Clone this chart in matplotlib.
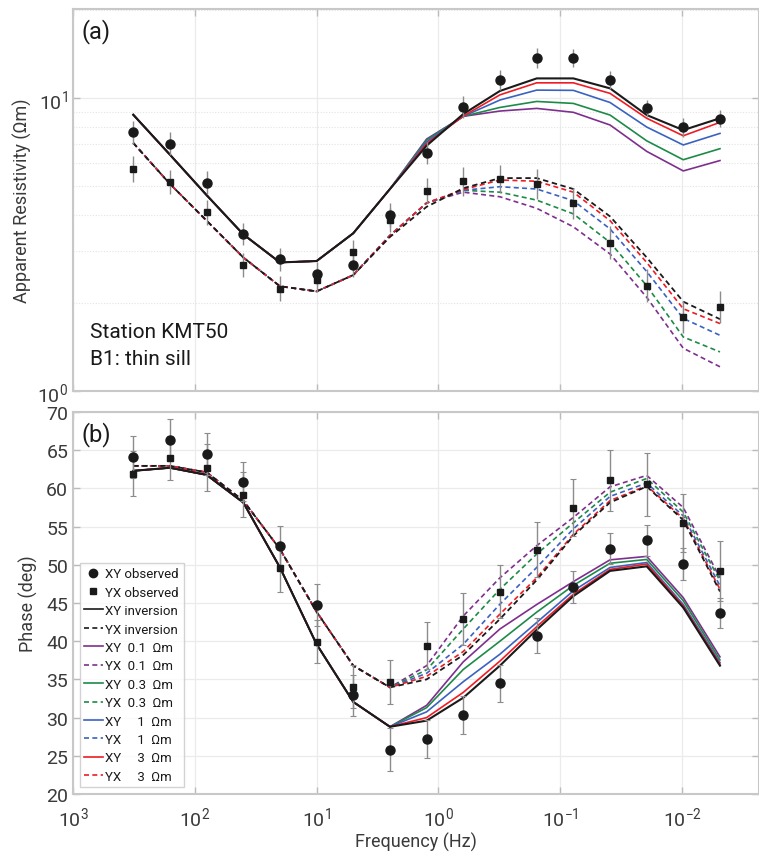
import numpy as np
import matplotlib

matplotlib.use("Agg")
import matplotlib.pyplot as plt
from matplotlib.lines import Line2D
from matplotlib.ticker import FixedLocator, FixedFormatter, NullLocator

# ---- data --------------------------------------------------------------
freq = [320, 160, 80, 40, 20, 10, 5, 2.5, 1.25, 0.625, 0.3125, 0.156, 0.078,
        0.039, 0.0195, 0.00977, 0.00488]

# apparent resistivity (ohm m)
xy_rho_obs = [7.67, 7.0, 5.15, 3.43, 2.82, 2.52, 2.69, 4.0, 6.49, 9.34, 11.55,
              13.73, 13.73, 11.55, 9.24, 7.96, 8.52]
yx_rho_obs = [5.73, 5.19, 4.08, 2.69, 2.24, 2.40, 2.99, 3.83, 4.84, 5.21, 5.30,
              5.11, 4.38, 3.21, 2.29, 1.79, 1.94]
xy_rho_err_pct = [9.5, 9.5, 9.5, 9, 9.5, 9.5, 9.5, 10, 9, 9, 8.5, 8, 7.5, 7, 7, 7.5, 7]
yx_rho_err_pct = [10.5, 10, 10.5, 10, 10.5, 10, 10, 10, 10.5, 12, 12, 12.5, 13,
                  14, 14, 13, 13.5]

# phase (deg)
xy_phs_obs = [64.1, 66.35, 64.5, 60.9, 52.4, 44.75, 32.9, 25.8, 27.25, 30.3, 34.5,
              40.7, 47.1, 52.1, 53.2, 50.1, 43.7]
yx_phs_obs = [61.95, 64.0, 62.7, 59.2, 49.55, 39.96, 34.07, 34.7, 39.4, 42.9, 46.5,
              51.95, 57.5, 61.07, 60.55, 55.5, 49.2]
xy_phs_err = [2.7, 2.7, 2.7, 2.6, 2.7, 2.7, 2.7, 2.8, 2.5, 2.5, 2.4, 2.3, 2.1,
              2.05, 2.0, 2.1, 2.0]
yx_phs_err = [3.0, 2.9, 3.05, 2.9, 3.05, 2.85, 2.85, 2.9, 3.05, 3.4, 3.5, 3.6,
              3.75, 4.0, 4.1, 3.8, 3.9]

# inversion responses
xy_rho_inv = [8.79, 6.42, 4.67, 3.43, 2.75, 2.78, 3.46, 4.90, 6.89, 8.84, 10.6,
              11.7, 11.7, 10.82, 8.77, 7.79, 8.55]
yx_rho_inv = [7.04, 5.10, 3.82, 2.86, 2.28, 2.19, 2.49, 3.36, 4.26, 4.93, 5.34,
              5.34, 4.90, 3.95, 2.86, 2.02, 1.76]
xy_phs_inv = [62.3, 62.7, 61.77, 58.15, 49.65, 39.6, 32.05, 28.8, 29.6, 32.6, 36.8,
              41.5, 45.9, 49.2, 49.8, 44.4, 36.8]
yx_phs_inv = [62.95, 62.95, 62.1, 58.4, 52.05, 43.85, 36.8, 33.95, 35.0, 38.2, 42.9,
              48.0, 53.8, 58.15, 60.25, 55.85, 46.5]

# sill-resistivity tests (0.1, 0.3, 1, 3 ohm m)
sill_labels = ["0.1", "0.3", "1", "3"]
xy_rho_sill = [
    [8.79, 6.42, 4.67, 3.43, 2.75, 2.78, 3.46, 4.90, 7.26, 8.68, 9.05, 9.24, 8.96, 8.11, 6.59, 5.65, 6.13],
    [8.79, 6.42, 4.67, 3.43, 2.75, 2.78, 3.46, 4.90, 7.20, 8.68, 9.31, 9.76, 9.61, 8.77, 7.16, 6.17, 6.73],
    [8.79, 6.42, 4.67, 3.43, 2.75, 2.78, 3.46, 4.90, 7.10, 8.68, 9.87, 10.67, 10.65, 9.68, 7.98, 6.93, 7.59],
    [8.79, 6.42, 4.67, 3.43, 2.75, 2.78, 3.46, 4.90, 7.00, 8.70, 10.28, 11.3, 11.3, 10.4, 8.55, 7.45, 8.28],
]
yx_rho_sill = [
    [7.04, 5.10, 3.82, 2.86, 2.28, 2.19, 2.49, 3.40, 4.39, 4.78, 4.61, 4.21, 3.64, 2.94, 2.09, 1.40, 1.21],
    [7.04, 5.10, 3.82, 2.86, 2.28, 2.19, 2.49, 3.40, 4.39, 4.85, 4.78, 4.49, 4.03, 3.22, 2.29, 1.53, 1.36],
    [7.04, 5.10, 3.82, 2.86, 2.28, 2.19, 2.49, 3.40, 4.39, 4.85, 4.99, 4.90, 4.47, 3.58, 2.56, 1.77, 1.55],
    [7.04, 5.10, 3.82, 2.86, 2.28, 2.19, 2.49, 3.40, 4.39, 4.88, 5.26, 5.21, 4.78, 3.82, 2.75, 1.91, 1.70],
]
xy_phs_sill = [
    [62.3, 62.7, 61.77, 58.15, 49.65, 39.6, 32.05, 28.8, 31.6, 37.3, 41.6, 44.8, 47.8, 50.65, 51.1, 45.7, 37.95],
    [62.3, 62.7, 61.77, 58.15, 49.65, 39.6, 32.05, 28.8, 31.3, 36.3, 40.0, 43.8, 47.3, 50.2, 50.7, 45.3, 37.55],
    [62.3, 62.7, 61.77, 58.15, 49.65, 39.6, 32.05, 28.8, 30.75, 34.7, 38.3, 42.45, 46.6, 49.65, 50.3, 44.8, 37.2],
    [62.3, 62.7, 61.77, 58.15, 49.65, 39.6, 32.05, 28.8, 30.0, 33.3, 37.4, 41.9, 46.15, 49.4, 50.1, 44.6, 37.0],
]
yx_phs_sill = [
    [62.95, 62.95, 62.1, 58.4, 52.05, 43.85, 36.8, 33.95, 36.8, 43.3, 48.3, 52.5, 56.2, 60.2, 61.7, 57.5, 48.3],
    [62.95, 62.95, 62.1, 58.4, 52.05, 43.85, 36.8, 33.95, 36.25, 41.6, 46.8, 51.4, 55.5, 59.5, 61.3, 56.9, 47.9],
    [62.95, 62.95, 62.1, 58.4, 52.05, 43.85, 36.8, 33.95, 35.8, 39.6, 44.85, 49.65, 54.7, 58.95, 60.7, 56.4, 47.25],
    [62.95, 62.95, 62.1, 58.4, 52.05, 43.85, 36.8, 33.95, 35.4, 38.65, 43.55, 48.3, 54.0, 58.4, 60.35, 56.05, 46.8],
]
sill_colors = ["#7E2F8E", "#1E8A48", "#3A62C0", "#EE1C24"]

# ---- style ---------------------------------------------------------------
plt.rcParams["font.family"] = ["Roboto", "DejaVu Sans"]
plt.rcParams["mathtext.fontset"] = "custom"
plt.rcParams["mathtext.rm"] = "Roboto"
plt.rcParams["mathtext.it"] = "Roboto:italic"
plt.rcParams["mathtext.bf"] = "Roboto:bold"
TXT = "#3a3a3a"
INK = "#1a1a1a"
SPINE = "#c8c8c8"
DASH = (0, (3, 2))

fig = plt.figure(figsize=(7.59, 8.53), dpi=100)
W = (759 - 73) / 759
ax1 = fig.add_axes([73 / 759, 1 - 392 / 853, W, 382 / 853])
ax2 = fig.add_axes([73 / 759, 1 - 795 / 853, W, 382 / 853])

f = np.array(freq)
xlim = (1000, 10 ** -2.632)


def style_axes(ax):
    ax.set_xscale("log")
    ax.set_xlim(*xlim)
    ax.xaxis.set_major_locator(FixedLocator([1e3, 1e2, 1e1, 1e0, 1e-1, 1e-2]))
    ax.xaxis.set_minor_locator(NullLocator())
    for s in ax.spines.values():
        s.set_color(SPINE)
        s.set_linewidth(1.5)
    ax.tick_params(which="both", direction="in", top=True, right=True,
                   color="#bbbbbb", labelcolor=TXT, labelsize=14, length=5, width=1)
    ax.tick_params(which="minor", length=0)
    ax.tick_params(axis="x", pad=8)
    ax.grid(True, which="major", color="#ebebeb", lw=0.9)
    ax.set_axisbelow(True)


# ---- (a) apparent resistivity -------------------------------------------
style_axes(ax1)
ax1.set_yscale("log")
ax1.set_ylim(1, 20.2)
ax1.yaxis.set_major_locator(FixedLocator([1, 10]))
ax1.yaxis.set_major_formatter(FixedFormatter(["$10^0$", "$10^1$"]))
ax1.yaxis.set_minor_locator(FixedLocator([2, 3, 4, 5, 6, 7, 8, 9, 20]))
ax1.grid(True, which="minor", axis="y", color="#e4e4e4", lw=0.8, ls=(0, (1, 1.5)))
ax1.tick_params(axis="x", labelbottom=False)

for vals, c in zip(yx_rho_sill, sill_colors):
    ax1.plot(f, vals, color=c, lw=1.2, ls=DASH)
for vals, c in zip(xy_rho_sill, sill_colors):
    ax1.plot(f, vals, color=c, lw=1.2)
ax1.plot(f, yx_rho_inv, color=INK, lw=1.3, ls=DASH)
ax1.plot(f, xy_rho_inv, color=INK, lw=1.5)

for obs, pct, mk, ms in [(xy_rho_obs, xy_rho_err_pct, "o", 6.5), (yx_rho_obs, yx_rho_err_pct, "s", 4.8)]:
    v = np.array(obs)
    e = np.array(pct) / 100
    ax1.errorbar(f, v, yerr=[v - v / (1 + e), v * e], fmt="none", ecolor="#8c8c8c",
                 elinewidth=1, capsize=0, zorder=4)
    ax1.plot(f, v, mk, color=INK, ms=ms, zorder=5)

ax1.set_ylabel("Apparent Resistivity (\u03a9m)", fontsize=13, color=TXT, labelpad=4)
ax1.text(0.012, 0.975, "(a)", transform=ax1.transAxes, fontsize=17, color=INK,
         va="top", ha="left")
ax1.text(0.025, 0.155, "Station KMT50", transform=ax1.transAxes, fontsize=15,
         color=INK, va="center")
ax1.text(0.025, 0.085, "B1: thin sill", transform=ax1.transAxes, fontsize=15,
         color=INK, va="center")

# ---- (b) phase -------------------------------------------------------------
style_axes(ax2)
ax2.set_ylim(20, 70)
ax2.yaxis.set_major_locator(FixedLocator(np.arange(20, 71, 5)))
ax2.xaxis.set_major_formatter(FixedFormatter(["$10^{3}$", "$10^{2}$", "$10^{1}$",
                                              "$10^{0}$", "$10^{-1}$", "$10^{-2}$"]))

for vals, c in zip(yx_phs_sill, sill_colors):
    ax2.plot(f, vals, color=c, lw=1.2, ls=DASH)
for vals, c in zip(xy_phs_sill, sill_colors):
    ax2.plot(f, vals, color=c, lw=1.2)
ax2.plot(f, yx_phs_inv, color=INK, lw=1.3, ls=DASH)
ax2.plot(f, xy_phs_inv, color=INK, lw=1.5)

for obs, err, mk, ms in [(xy_phs_obs, xy_phs_err, "o", 6.5), (yx_phs_obs, yx_phs_err, "s", 4.8)]:
    ax2.errorbar(f, obs, yerr=err, fmt="none", ecolor="#8c8c8c", elinewidth=1,
                 capsize=2, capthick=0.8, zorder=4)
    ax2.plot(f, obs, mk, color=INK, ms=ms, zorder=5)

ax2.set_ylabel("Phase (deg)", fontsize=13, color=TXT, labelpad=6)
ax2.set_xlabel("Frequency (Hz)", fontsize=13, color=TXT, labelpad=2)
ax2.text(0.012, 0.975, "(b)", transform=ax2.transAxes, fontsize=17, color=INK,
         va="top", ha="left")

# legend
handles = [
    Line2D([], [], ls="none", marker="o", color=INK, ms=6),
    Line2D([], [], ls="none", marker="s", color=INK, ms=4.5),
    Line2D([], [], color=INK, lw=1.2),
    Line2D([], [], color=INK, lw=1.2, ls=DASH),
]
labels = ["XY observed", "YX observed", "XY inversion", "YX inversion"]
pads = {"0.1": "0.1", "0.3": "0.3", "1": "   1", "3": "   3"}
for s, c in zip(sill_labels, sill_colors):
    handles.append(Line2D([], [], color=c, lw=1.2))
    labels.append(f"XY  {pads[s]}  \u03a9m")
    handles.append(Line2D([], [], color=c, lw=1.2, ls=DASH))
    labels.append(f"YX  {pads[s]}  \u03a9m")
leg = ax2.legend(handles, labels, loc="lower left", fontsize=9.5, frameon=True,
                 fancybox=False, edgecolor="#c8c8c8", handlelength=1.4,
                 handletextpad=0.2, labelspacing=0.41, borderpad=0.35,
                 borderaxespad=0.5, labelcolor=INK)
leg.get_frame().set_linewidth(1.0)

fig.savefig("out.png", dpi=100)
